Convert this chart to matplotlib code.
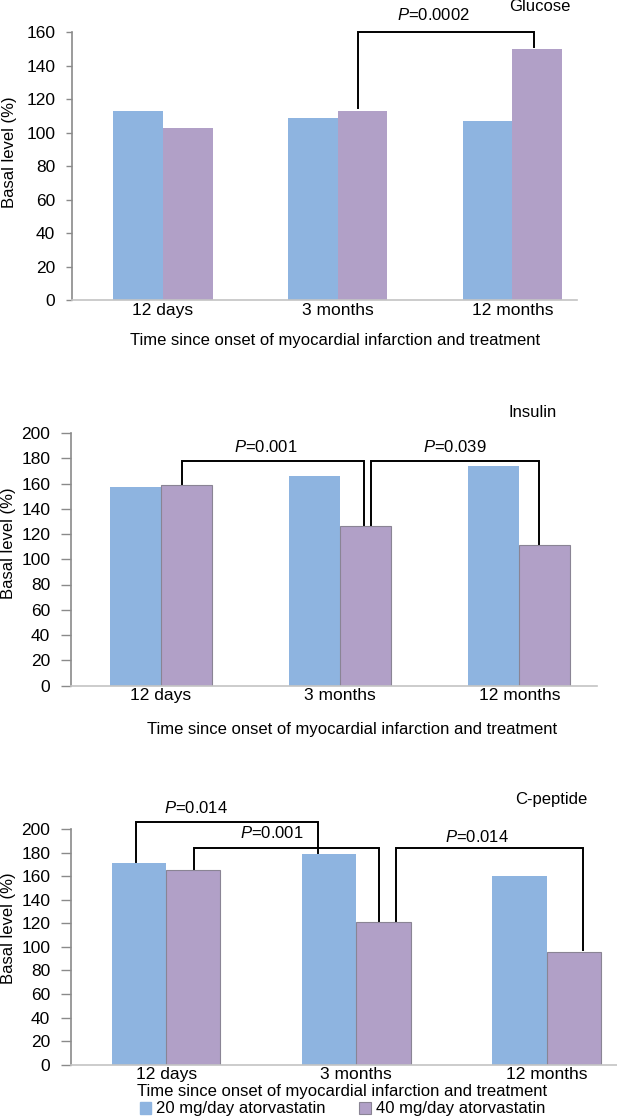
import numpy as np
import matplotlib
matplotlib.use("Agg")
from matplotlib import pyplot as plt

plt.rcParams['font.family'] = ['Liberation Sans', 'DejaVu Sans']
plt.rcParams['mathtext.fontset'] = 'custom'
plt.rcParams['mathtext.it'] = 'Liberation Sans:italic'
plt.rcParams['mathtext.rm'] = 'Liberation Sans'

categories = ['12 days', '3 months', '12 months']
series_names = ['20 mg/day atorvastatin', '40 mg/day atorvastatin']

glucose_20 = [113, 109, 107]
glucose_40 = [103, 113, 150]
insulin_20 = [157, 166, 174]
insulin_40 = [159, 126, 111]
cpep_20 = [171, 179, 160]
cpep_40 = [165, 121, 96]

blue = '#8eb4e0'
purple = '#b1a0c7'
W, H = 617, 1119
fs = 12
tfs = 12.5
w = 0.285

fig = plt.figure(figsize=(W / 100, H / 100), dpi=100)


def px_axes(l, r, top, bot):
    # pixel box -> figure fraction
    return [l / W, 1 - bot / H, (r - l) / W, (bot - top) / H]


def bracket(ax, x1, y1, x2, y2, ytop):
    ax.plot([x1, x1, x2, x2], [y1, ytop, ytop, y2], color='black', lw=1.4,
            solid_joinstyle='miter', zorder=3, clip_on=False)


def panel(box, v20, v40, ymax, tick_len, edge, xlim):
    ax = fig.add_axes(px_axes(*box))
    x = np.arange(len(categories))
    ax.bar(x - w / 2, v20, w, color=blue, zorder=2)
    ax.bar(x + w / 2, v40, w, color=purple, zorder=2,
           edgecolor='#8a8494' if edge else 'none', linewidth=0.8)
    ax.set_xlim(*xlim)
    ax.set_ylim(0, ymax)
    ax.set_yticks(np.arange(0, ymax + 1, 20))
    ax.set_xticks(x)
    ax.set_xticklabels(categories, fontsize=tfs)
    ax.tick_params(axis='x', length=0, pad=2)
    ax.tick_params(axis='y', length=tick_len, width=1, color='#8a8a8a',
                   labelsize=tfs, pad=8)
    for s in ['top', 'right']:
        ax.spines[s].set_visible(False)
    ax.spines['left'].set_color('#8a8a8a')
    ax.spines['left'].set_linewidth(1.2)
    ax.spines['bottom'].set_color('#c4c4c4')
    ax.spines['bottom'].set_linewidth(1.2)
    return ax


def fig_text(px, py, s, **kw):
    fig.text(px / W, 1 - py / H, s, fontsize=fs, ha='center', va='center', **kw)


xlabel = 'Time since onset of myocardial infarction and treatment'

# Glucose
ax1 = panel((72, 577, 32.3, 300), glucose_20, glucose_40, 160, 4, False, (-0.52, 2.37))
bracket(ax1, 1.114, 115, 2.122, 151.5, 160)
ax1.text(1.546, 170.3, r'$\it{P}$=0.0002', fontsize=fs, ha='center', va='center')
ax1.text(2.156, 175.3, 'Glucose', fontsize=fs, ha='center', va='center', clip_on=False)
fig_text(335, 340.7, xlabel)
fig_text(10, 152, 'Basal level (%)', rotation=90)

# Insulin
ax2 = panel((71, 596.5, 433, 685.5), insulin_20, insulin_40, 200, 7, True, (-0.5, 2.43))
bracket(ax2, 0.119, 160, 1.132, 127, 178)
bracket(ax2, 1.175, 127, 2.111, 112, 178)
ax2.text(0.585, 188.7, r'$\it{P}$=0.001', fontsize=fs, ha='center', va='center')
ax2.text(1.638, 188.7, r'$\it{P}$=0.039', fontsize=fs, ha='center', va='center')
ax2.text(2.075, 216.6, 'Insulin', fontsize=fs, ha='center', va='center', clip_on=False)
fig_text(352, 729.3, xlabel)
fig_text(9, 543, 'Basal level (%)', rotation=90)

# C-peptide
ax3 = panel((71, 617, 829, 1064.7), cpep_20, cpep_40, 200, 7, True, (-0.5, 2.37))
bracket(ax3, -0.157, 172, 0.796, 180, 206)
bracket(ax3, 0.144, 166, 1.117, 122, 183.6)
bracket(ax3, 1.206, 122, 2.193, 97, 183.6)
ax3.text(0.155, 217.7, r'$\it{P}$=0.014', fontsize=fs, ha='center', va='center', clip_on=False)
ax3.text(0.553, 196.7, r'$\it{P}$=0.001', fontsize=fs, ha='center', va='center')
ax3.text(1.636, 193.4, r'$\it{P}$=0.014', fontsize=fs, ha='center', va='center')
ax3.text(2.022, 224.7, 'C-peptide', fontsize=fs, ha='center', va='center', clip_on=False)
fig_text(342, 1091.7, xlabel)
fig_text(9, 928, 'Basal level (%)', rotation=90)

handles = [plt.Rectangle((0, 0), 1, 1, color=blue),
           plt.Rectangle((0, 0), 1, 1, facecolor=purple, edgecolor='#8a8494', linewidth=0.8)]
fig.legend(handles, series_names, loc='center', bbox_to_anchor=(342.5 / W, 1 - 1109 / H),
           ncol=2, frameon=False, fontsize=fs, handlelength=0.7, handleheight=0.7,
           handletextpad=0.3, columnspacing=2.0, borderpad=0, borderaxespad=0)

fig.savefig('out.png', dpi=100)
